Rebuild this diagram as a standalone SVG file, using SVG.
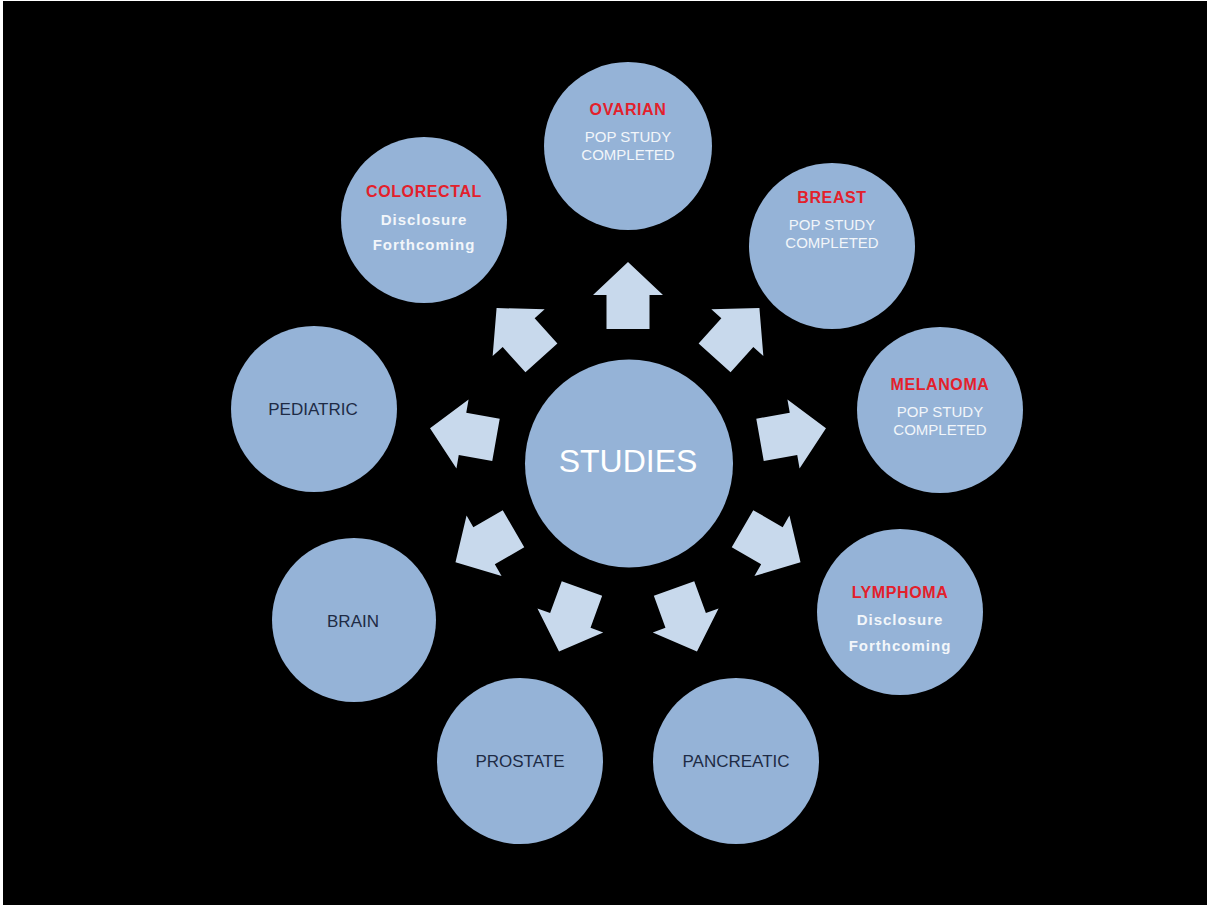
<svg xmlns="http://www.w3.org/2000/svg" width="1207" height="905" viewBox="0 0 1207 905">
  <style>
    .node { fill: #95b3d7; }
    .arrow { fill: #c8d9ec; }
    .dark { font-family: "Liberation Sans", Arial, sans-serif; font-size: 17px; fill: #1e2b45; text-anchor: middle; }
    .red { font-family: "Liberation Sans", Arial, sans-serif; font-size: 16px; font-weight: bold; fill: #e3202b; text-anchor: middle; letter-spacing: 0.6px; }
    .pop { font-family: "Liberation Sans", Arial, sans-serif; font-size: 15px; fill: #f2f6fa; text-anchor: middle; }
    .disc { font-family: "Liberation Sans", Arial, sans-serif; font-size: 15px; font-weight: bold; fill: #f2f6fa; text-anchor: middle; letter-spacing: 1px; }
    .main { font-family: "Liberation Sans", Arial, sans-serif; font-size: 32px; fill: #ffffff; text-anchor: middle; }
  </style>
  <defs>
    <path id="blockArrow" d="M0,-33.5 L35,-0.5 L21.5,-0.5 L21.5,33.5 L-21.5,33.5 L-21.5,-0.5 L-35,-0.5 Z"/>
  </defs>
  <rect x="0" y="0" width="1207" height="905" fill="#ffffff"/>
  <rect x="3" y="1" width="1204" height="904" fill="#000000"/>

  <g id="connectors">
    <use href="#blockArrow" class="arrow" transform="translate(628,295.5)"/>
    <use href="#blockArrow" class="arrow" transform="translate(737,333) rotate(42)"/>
    <use href="#blockArrow" class="arrow" transform="translate(793,434) rotate(80)"/>
    <use href="#blockArrow" class="arrow" transform="translate(771.5,545.5) rotate(120)"/>
    <use href="#blockArrow" class="arrow" transform="translate(685.5,620) rotate(160)"/>
    <use href="#blockArrow" class="arrow" transform="translate(570.5,620) rotate(-160)"/>
    <use href="#blockArrow" class="arrow" transform="translate(484.5,545.5) rotate(-120)"/>
    <use href="#blockArrow" class="arrow" transform="translate(463,434) rotate(-80)"/>
    <use href="#blockArrow" class="arrow" transform="translate(519,333) rotate(-42)"/>
  </g>

  <g id="studies">
    <circle class="node" cx="629" cy="463.5" r="104"/>
    <text class="main" x="628" y="472">STUDIES</text>
  </g>

  <g id="ovarian">
    <circle class="node" cx="628" cy="146" r="84"/>
    <text class="red" x="628" y="115">OVARIAN</text>
    <text class="pop" x="628" y="142">POP STUDY</text>
    <text class="pop" x="628" y="160">COMPLETED</text>
  </g>

  <g id="breast">
    <circle class="node" cx="832" cy="246" r="83"/>
    <text class="red" x="832" y="203">BREAST</text>
    <text class="pop" x="832" y="230">POP STUDY</text>
    <text class="pop" x="832" y="248">COMPLETED</text>
  </g>

  <g id="melanoma">
    <circle class="node" cx="940" cy="410" r="83"/>
    <text class="red" x="940" y="390">MELANOMA</text>
    <text class="pop" x="940" y="417">POP STUDY</text>
    <text class="pop" x="940" y="435">COMPLETED</text>
  </g>

  <g id="lymphoma">
    <circle class="node" cx="900" cy="612" r="83"/>
    <text class="red" x="900" y="598">LYMPHOMA</text>
    <text class="disc" x="900" y="625">Disclosure</text>
    <text class="disc" x="900" y="651">Forthcoming</text>
  </g>

  <g id="pancreatic">
    <circle class="node" cx="736" cy="761" r="83"/>
    <text class="dark" x="736" y="767">PANCREATIC</text>
  </g>

  <g id="prostate">
    <circle class="node" cx="520" cy="761" r="83"/>
    <text class="dark" x="520" y="767">PROSTATE</text>
  </g>

  <g id="brain">
    <circle class="node" cx="354" cy="620" r="82"/>
    <text class="dark" x="353" y="627">BRAIN</text>
  </g>

  <g id="pediatric">
    <circle class="node" cx="314" cy="409" r="83"/>
    <text class="dark" x="313" y="415">PEDIATRIC</text>
  </g>

  <g id="colorectal">
    <circle class="node" cx="424" cy="220" r="83"/>
    <text class="red" x="424" y="197">COLORECTAL</text>
    <text class="disc" x="424" y="225">Disclosure</text>
    <text class="disc" x="424" y="250">Forthcoming</text>
  </g>
</svg>
